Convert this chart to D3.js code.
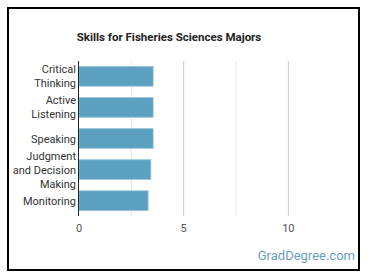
<!DOCTYPE html>
<html>
<head>
<meta charset="utf-8">
<script src="https://cdn.jsdelivr.net/npm/d3@7"></script>
<style>
  body { margin: 0; background: #fff; }
  svg { display: block; font-family: Roboto, "Open Sans", sans-serif; }
</style>
</head>
<body>
<div id="chart"></div>
<script>
var skills = [['Critical', 'Thinking'], ['Active', 'Listening'], ['Speaking'], ['Judgment', 'and Decision', 'Making'], ['Monitoring']]
  , keys = ['Critical Thinking', 'Active Listening', 'Speaking', 'Judgment and Decision Making', 'Monitoring']
  , values = [3.54, 3.54, 3.54, 3.43, 3.30]
  , ticks = [0, 5, 10]
  , grid = [0, 2.5, 5, 7.5, 10]
  ;

var width = 370
  , height = 278
  , margin = {top: 61, left: 79, bottom: 62, right: 20}
  ;

var svg = d3.select('#chart').append('svg')
    .attr('width', width)
    .attr('height', height);

svg.append('rect')
    .attr('x', 8).attr('y', 8)
    .attr('width', 351).attr('height', 262)
    .attr('fill', '#fff')
    .attr('stroke', '#000')
    .attr('stroke-width', 2);

svg.append('text')
    .attr('x', 169).attr('y', 41)
    .attr('text-anchor', 'middle')
    .attr('font-size', 11.5)
    .attr('font-weight', 'bold')
    .attr('fill', '#222')
    .text('Skills for Fisheries Sciences Majors');

var x = d3.scaleLinear().domain([0, 12.5]).range([margin.left, margin.left + 261.7]);
var y = d3.scaleBand().domain(keys).range([margin.top, height - margin.bottom]).paddingInner(0.37).paddingOuter(0.18);

svg.append('g').selectAll('line')
    .data(grid.slice(1))
  .enter().append('line')
    .attr('x1', function (d) { return x(d); })
    .attr('x2', function (d) { return x(d); })
    .attr('y1', margin.top)
    .attr('y2', height - margin.bottom)
    .attr('stroke', function (d) { return d % 5 === 0 ? '#ccc' : '#e6e6e6'; })
    .attr('stroke-width', 1);

svg.append('g').selectAll('rect')
    .data(values)
  .enter().append('rect')
    .attr('x', x(0))
    .attr('y', function (d, i) { return y(keys[i]); })
    .attr('width', function (d) { return x(d) - x(0); })
    .attr('height', y.bandwidth())
    .attr('fill', '#5ba1bf')
    .attr('stroke', '#8cc0d6')
    .attr('stroke-width', 0.8);

svg.append('line')
    .attr('x1', x(0) - 0.5).attr('x2', x(0) - 0.5)
    .attr('y1', margin.top).attr('y2', height - margin.bottom)
    .attr('stroke', '#222').attr('stroke-width', 1);

var lab = svg.append('g').selectAll('text')
    .data(skills)
  .enter().append('text')
    .attr('text-anchor', 'end')
    .attr('font-size', 11)
    .attr('fill', '#333')
    .attr('transform', function (d, i) {
      var cy = y(keys[i]) + y.bandwidth() / 2;
      return 'translate(' + (x(0) - 3) + ',' + (cy - (d.length - 1) * 7 + 4) + ')';
    });

lab.selectAll('tspan')
    .data(function (d) { return d; })
  .enter().append('tspan')
    .attr('x', 0)
    .attr('dy', function (d, i) { return i ? 14 : 0; })
    .text(function (d) { return d; });

svg.append('g').selectAll('text')
    .data(ticks)
  .enter().append('text')
    .attr('x', function (d) { return x(d); })
    .attr('y', 232)
    .attr('text-anchor', 'middle')
    .attr('font-size', 11)
    .attr('fill', '#555')
    .text(function (d) { return d; });

svg.append('text')
    .attr('x', 355).attr('y', 260)
    .attr('text-anchor', 'end')
    .attr('font-size', 13)
    .attr('fill', '#6a9fc0')
    .text('GradDegree.com');
</script>
</body>
</html>
